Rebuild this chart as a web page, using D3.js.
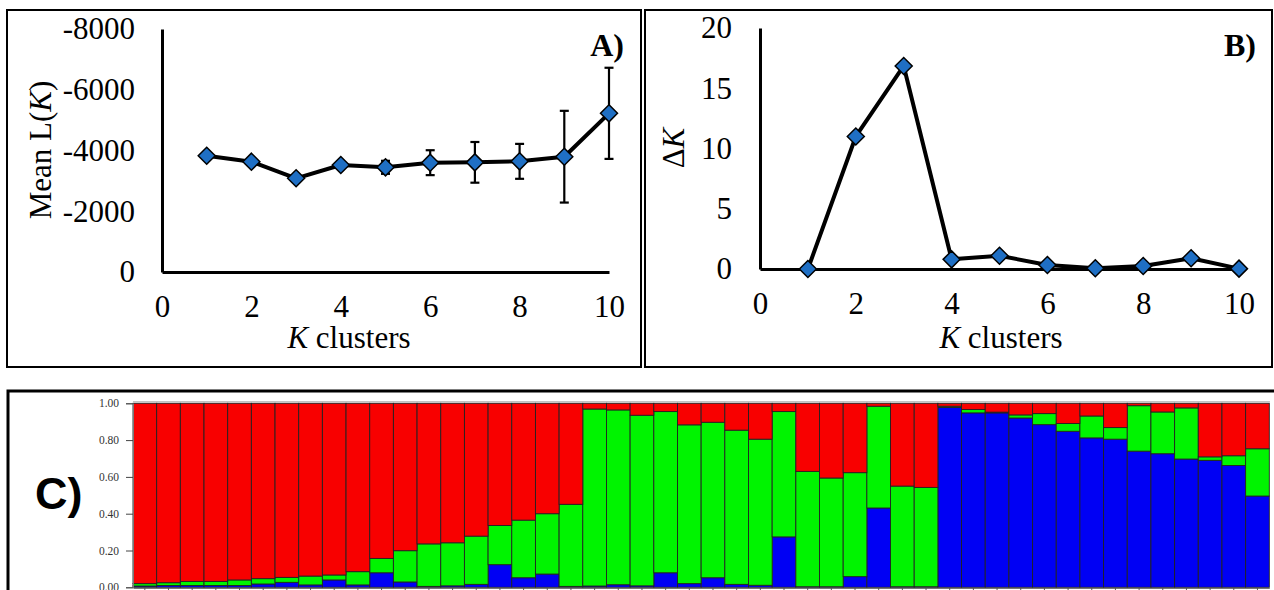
<!DOCTYPE html>
<html>
<head>
<meta charset="utf-8">
<script src="https://cdn.jsdelivr.net/npm/d3@7"></script>
<style>
body { margin: 0; background: #fff; }
svg text { font-family: "Liberation Serif", "Times New Roman", serif; }
</style>
</head>
<body>
<div id="chart"></div>
<script>
// values
var kValues = [1, 2, 3, 4, 5, 6, 7, 8, 9, 10];
var meanLK = [-3826, -3632, -3085, -3523, -3446, -3599, -3610, -3643, -3796, -5224];
var meanLKsd = [0, 0, 0, 0, 215, 410, 670, 575, 1510, 1500];
var deltaK = [0, 11.0, 16.85, 0.8, 1.1, 0.33, 0.06, 0.25, 0.89, 0.03];

var kTicks = [0, 2, 4, 6, 8, 10];
var meanTicks = [0, -2000, -4000, -6000, -8000];
var deltaTicks = [0, 5, 10, 15, 20];

// structure bar plot (one bar per individual)
var blueQ = [0.007, 0.010, 0.010, 0.010, 0.010, 0.018, 0.027, 0.013, 0.040, 0.013,
             0.079, 0.029, 0.005, 0.008, 0.016, 0.123, 0.052, 0.072, 0.005, 0.007,
             0.014, 0.008, 0.079, 0.020, 0.052, 0.016, 0.011, 0.274, 0.003, 0.003,
             0.058, 0.431, 0.003, 0.003, 0.977, 0.948, 0.948, 0.920, 0.884, 0.848,
             0.812, 0.805, 0.740, 0.726, 0.697, 0.690, 0.662, 0.496];
var greenQ = [0.013, 0.015, 0.022, 0.022, 0.030, 0.029, 0.027, 0.048, 0.027, 0.072,
              0.078, 0.170, 0.231, 0.234, 0.262, 0.213, 0.313, 0.328, 0.446, 0.962,
              0.950, 0.927, 0.876, 0.863, 0.845, 0.838, 0.794, 0.681, 0.627, 0.591,
              0.565, 0.553, 0.547, 0.540, 0.007, 0.018, 0.004, 0.017, 0.060, 0.042,
              0.119, 0.063, 0.247, 0.227, 0.278, 0.019, 0.053, 0.257];
var redQ = [0.980, 0.975, 0.968, 0.968, 0.960, 0.953, 0.946, 0.939, 0.933, 0.915,
            0.843, 0.801, 0.764, 0.758, 0.722, 0.664, 0.635, 0.600, 0.549, 0.031,
            0.036, 0.065, 0.045, 0.117, 0.103, 0.146, 0.195, 0.045, 0.370, 0.406,
            0.377, 0.016, 0.450, 0.457, 0.016, 0.034, 0.048, 0.063, 0.056, 0.110,
            0.069, 0.132, 0.013, 0.047, 0.025, 0.291, 0.285, 0.247];
var qTicks = [0, 0.2, 0.4, 0.6, 0.8, 1.0];

var MARKER = "#1f6fc4";
var FS = 31;

var svg = d3.select("#chart").append("svg")
    .attr("width", 1274)
    .attr("height", 590);

svg.append("rect").attr("width", 1274).attr("height", 590).attr("fill", "#fff");

function styleAxis(g, size) {
    g.attr("font-family", null).attr("font-size", null);
    g.select(".domain").attr("stroke", "#000").attr("stroke-width", 3);
    g.selectAll("text").style("font-size", size + "px").attr("fill", "#000");
}

function diamond(x, y, r) {
    return "M" + x + "," + (y - r) + "L" + (x + r) + "," + y + "L" + x + "," + (y + r) + "L" + (x - r) + "," + y + "Z";
}

function linePanel(opt) {
    var p = opt;

    svg.append("rect")
        .attr("x", p.frame[0]).attr("y", p.frame[1])
        .attr("width", p.frame[2]).attr("height", p.frame[3])
        .attr("fill", "none").attr("stroke", "#000").attr("stroke-width", 2);

    var x = d3.scaleLinear().domain([0, 10]).range(p.xRange);
    var y = d3.scaleLinear().domain(p.yDomain).range(p.yRange);

    var gx = svg.append("g")
        .attr("transform", "translate(0," + p.yRange[0] + ")")
        .call(d3.axisBottom(x).tickValues(kTicks).tickSize(0).tickSizeOuter(0).tickPadding(23)
            .tickFormat(function(d) { return String(d); }));
    styleAxis(gx, FS);

    var gy = svg.append("g")
        .attr("transform", "translate(" + p.xRange[0] + ",0)")
        .call(d3.axisLeft(y).tickValues(p.yTicks).tickSize(0).tickSizeOuter(0).tickPadding(p.yPad)
            .tickFormat(function(d) { return String(d); }));
    styleAxis(gy, FS);

    // error bars
    if (p.sd) {
        var eb = svg.append("g").attr("stroke", "#000").attr("stroke-width", 2.2);
        p.values.forEach(function(v, i) {
            if (!p.sd[i]) return;
            var cx = x(kValues[i]);
            var y1 = y(v - p.sd[i]), y2 = y(v + p.sd[i]);
            eb.append("line").attr("x1", cx).attr("x2", cx).attr("y1", y1).attr("y2", y2);
            eb.append("line").attr("x1", cx - 4.5).attr("x2", cx + 4.5).attr("y1", y1).attr("y2", y1);
            eb.append("line").attr("x1", cx - 4.5).attr("x2", cx + 4.5).attr("y1", y2).attr("y2", y2);
        });
    }

    var line = d3.line()
        .x(function(d, i) { return x(kValues[i]); })
        .y(function(d) { return y(d); });

    svg.append("path")
        .datum(p.values)
        .attr("d", line)
        .attr("fill", "none")
        .attr("stroke", "#000")
        .attr("stroke-width", 4)
        .attr("stroke-linejoin", "round");

    svg.append("g").selectAll("path")
        .data(p.values)
        .enter().append("path")
        .attr("d", function(d, i) { return diamond(x(kValues[i]), y(d), 8.5); })
        .attr("fill", MARKER)
        .attr("stroke", "#000")
        .attr("stroke-width", 1.5);

    // axis titles
    var yt = svg.append("text")
        .attr("transform", "translate(" + p.yTitlePos[0] + "," + p.yTitlePos[1] + ") rotate(-90)")
        .attr("text-anchor", "middle")
        .style("font-size", "31px");
    p.yTitle.forEach(function(part) {
        yt.append("tspan").style("font-style", part[1] ? "italic" : "normal").text(part[0]);
    });

    var xt = svg.append("text")
        .attr("x", p.xTitleX).attr("y", 348)
        .attr("text-anchor", "middle")
        .style("font-size", "31px");
    xt.append("tspan").style("font-style", "italic").text("K");
    xt.append("tspan").text(" clusters");

    svg.append("text")
        .attr("x", p.tag[0]).attr("y", p.tag[1])
        .attr("text-anchor", "end")
        .style("font-size", "32px")
        .style("font-weight", "bold")
        .text(p.tag[2]);
}

// A) mean likelihood
linePanel({
    frame: [7, 10, 634, 357],
    xRange: [162, 609],
    yDomain: [0, -8000],
    yRange: [272, 29],
    yTicks: meanTicks,
    yPad: 27,
    values: meanLK,
    sd: meanLKsd,
    yTitle: [["Mean L(", false], ["K", true], [")", false]],
    yTitlePos: [51, 150],
    xTitleX: 349,
    tag: [624, 56, "A)"]
});

// B) delta K
linePanel({
    frame: [645, 10, 627, 357],
    xRange: [760, 1239],
    yDomain: [0, 20],
    yRange: [269, 28],
    yTicks: deltaTicks,
    yPad: 28,
    values: deltaK,
    sd: null,
    yTitle: [["\u0394", false], ["K", true]],
    yTitlePos: [684, 148],
    xTitleX: 1001,
    tag: [1256, 56, "B)"]
});

// C) structure bar plot
svg.append("rect")
    .attr("x", 8).attr("y", 391)
    .attr("width", 1290).attr("height", 230)
    .attr("fill", "none").attr("stroke", "#000").attr("stroke-width", 3);

var rows = blueQ.map(function(b, i) {
    return {id: i, blue: b, green: greenQ[i], red: redQ[i]};
});

var xC = d3.scaleBand().domain(d3.range(rows.length)).range([133, 1269.3]);
var yC = d3.scaleLinear().domain([0, 1]).range([587.3, 403.3]);

var colours = {blue: "#0000f4", green: "#00f400", red: "#f80000"};
var stack = d3.stack().keys(["blue", "green", "red"]);

svg.append("line")
    .attr("x1", 133).attr("x2", 1270)
    .attr("y1", yC(1) - 1.5).attr("y2", yC(1) - 1.5)
    .attr("stroke", "#aaa").attr("stroke-width", 1);

svg.append("g").selectAll("g")
    .data(stack(rows))
    .enter().append("g")
    .attr("fill", function(d) { return colours[d.key]; })
    .selectAll("rect")
    .data(function(d) { return d; })
    .enter().append("rect")
    .attr("x", function(d) { return xC(d.data.id); })
    .attr("y", function(d) { return yC(d[1]); })
    .attr("width", xC.bandwidth())
    .attr("height", function(d) { return yC(d[0]) - yC(d[1]); })
    .attr("stroke", "#222")
    .attr("stroke-width", 0.9);

var gC = svg.append("g")
    .attr("transform", "translate(133,0)")
    .call(d3.axisLeft(yC).tickValues(qTicks).tickSize(7).tickPadding(7).tickFormat(d3.format(".2f")));
gC.attr("font-family", null).attr("font-size", null);
gC.select(".domain").attr("stroke", "#777");
gC.selectAll(".tick line").attr("stroke", "#444");
gC.selectAll("text").style("font-size", "11.5px").attr("fill", "#333");

var gCx = svg.append("g")
    .attr("transform", "translate(0," + (yC(0) + 0.5) + ")")
    .call(d3.axisBottom(xC).tickSize(4).tickSizeOuter(0).tickFormat(""));
gCx.select(".domain").attr("stroke", "#555");
gCx.selectAll(".tick line").attr("stroke", "#555");

svg.append("text")
    .attr("x", 35).attr("y", 509)
    .style("font-family", "'Liberation Sans', Arial, sans-serif")
    .style("font-size", "45px")
    .style("font-weight", "bold")
    .text("C)");
</script>
</body>
</html>
